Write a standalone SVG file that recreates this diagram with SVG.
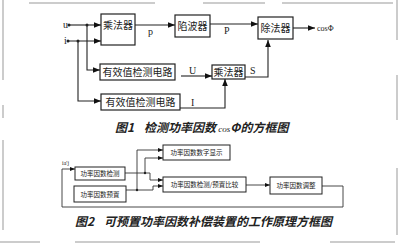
<svg xmlns="http://www.w3.org/2000/svg" width="400" height="245" viewBox="0 0 400 245">
<defs>
<marker id="ar" viewBox="0 0 10 10" refX="10" refY="5" markerWidth="7" markerHeight="7" markerUnits="userSpaceOnUse" orient="auto">
<path d="M0,1 L10,5 L0,9 z" fill="#111"/>
</marker>
<marker id="ar2" viewBox="0 0 10 10" refX="10" refY="5" markerWidth="5" markerHeight="5" markerUnits="userSpaceOnUse" orient="auto">
<path d="M0,1 L10,5 L0,9 z" fill="#111"/>
</marker>
</defs>
<style>
.b{fill:#fff;stroke:#222;stroke-width:1.2}
.b2{fill:#fff;stroke:#222;stroke-width:1}
.w{fill:none;stroke:#222;stroke-width:1.1}
.w2{fill:none;stroke:#333;stroke-width:0.9}
.t{font-family:"Noto Sans CJK SC","Liberation Serif",serif;font-size:10px;fill:#222;text-anchor:middle}
.t2{font-family:"Noto Sans CJK SC","Liberation Sans",sans-serif;font-size:6.5px;fill:#222;text-anchor:middle}
.l{font-family:"Liberation Serif",serif;font-size:10px;fill:#222}
.cap{font-family:"Noto Sans CJK SC","Liberation Sans",sans-serif;font-size:12px;font-style:italic;font-weight:bold;fill:#222}
.scan{fill:none;stroke:#999;stroke-width:1}
</style>
<g id="scan">
<line class="scan" x1="29" y1="3" x2="155" y2="3"/>
<line class="scan" x1="203" y1="3" x2="265" y2="3"/>
<line class="scan" x1="282" y1="3" x2="393" y2="3"/>
<line class="scan" x1="3" y1="0" x2="3" y2="80"/>
<line class="scan" x1="3" y1="105" x2="3" y2="118"/>
<line class="scan" x1="397" y1="0" x2="397" y2="40"/>
<line class="scan" x1="397" y1="75" x2="397" y2="120"/>
<line class="scan" x1="3" y1="140" x2="3" y2="230"/>
<line class="scan" x1="397" y1="168" x2="397" y2="235"/>
<line class="scan" x1="0" y1="242" x2="40" y2="242"/>
<line class="scan" x1="75" y1="242" x2="260" y2="242"/>
<line class="scan" x1="330" y1="242" x2="395" y2="242"/>
</g>
<g id="connectors">
<line class="w" x1="69" y1="25" x2="101" y2="25" marker-end="url(#ar)"/>
<line class="w" x1="68" y1="41" x2="101" y2="41" marker-end="url(#ar)"/>
<polyline class="w" points="87,25 87,70 100,70" marker-end="url(#ar)"/>
<polyline class="w" points="78,41 78,101 101,101" marker-end="url(#ar)"/>
<circle cx="69" cy="25" r="1.5" fill="#222"/>
<circle cx="87" cy="25" r="1.5" fill="#222"/>
<circle cx="68" cy="41" r="1.5" fill="#222"/>
<circle cx="78" cy="41" r="1.5" fill="#222"/>
<line class="w" x1="135" y1="25" x2="175" y2="25" marker-end="url(#ar)"/>
<line class="w" x1="210" y1="24" x2="258" y2="24" marker-end="url(#ar)"/>
<line class="w" x1="293" y1="28" x2="315" y2="28" marker-end="url(#ar)"/>
<line class="w" x1="181" y1="76" x2="212" y2="76" marker-end="url(#ar)"/>
<polyline class="w" points="245,77 268,77 268,40" marker-end="url(#ar)"/>
<polyline class="w" points="180,108 225,108 225,79" marker-end="url(#ar)"/>
<polyline class="w2" points="125,173 150,173 150,180 163,180" marker-end="url(#ar2)"/>
<polyline class="w2" points="145,173 145,158 163,158" marker-end="url(#ar2)"/>
<polyline class="w2" points="126,190 153,190 153,186 163,186" marker-end="url(#ar2)"/>
<polyline class="w2" points="137,190 137,150 163,150" marker-end="url(#ar2)"/>
<circle cx="145" cy="173" r="1.2" fill="#222"/>
<circle cx="137" cy="190" r="1.2" fill="#222"/>
<line class="w2" x1="246" y1="185" x2="270" y2="185" marker-end="url(#ar2)"/>
<polyline class="w2" points="322,186 343,186 343,207 62,207 62,169 75,169" marker-end="url(#ar2)"/>
</g>
<g id="labels">
<text class="l" x="63" y="28">u</text>
<text class="l" x="64" y="44">i</text>
<text class="l" x="148" y="35">p</text>
<text class="l" x="224" y="34">P</text>
<text class="l" x="189" y="74">U</text>
<text class="l" x="250" y="74">S</text>
<text class="l" x="191" y="106">I</text>
<text class="l" x="317" y="31" style="font-size:8px">cosΦ</text>
<text class="l" x="62" y="165" style="font-size:6px">ia'j</text>
</g>
<g id="mul1"><rect class="b" x="101" y="14" width="34" height="31"/><text class="t" x="118" y="29">乘法器</text></g>
<g id="notch"><rect class="b" x="175" y="15" width="35" height="22"/><text class="t" x="192.5" y="29.5">陷波器</text></g>
<g id="div"><rect class="b" x="258" y="17" width="35" height="22"/><text class="t" x="275.5" y="31.5">除法器</text></g>
<g id="rms1"><rect class="b" x="100" y="64" width="75" height="16"/><text class="t" x="137.5" y="75.5">有效值检测电路</text></g>
<g id="rms2"><rect class="b" x="101" y="94" width="79" height="16"/><text class="t" x="140.5" y="105.5">有效值检测电路</text></g>
<g id="mul2"><rect class="b" x="212" y="65" width="33" height="14"/><text class="t" x="228.5" y="75.5">乘法器</text></g>
<text class="cap" x="115" y="132">图1<tspan dx="10">检测功率因数</tspan><tspan style="font-size:9px;font-family:'Liberation Serif',serif;font-weight:normal"> cos</tspan>Φ的方框图</text>
<g id="detect"><rect class="b2" x="75" y="167" width="50" height="13"/><text class="t2" x="100" y="176">功率因数检测</text></g>
<g id="preset"><rect class="b2" x="74" y="186" width="52" height="16"/><text class="t2" x="100" y="196.5">功率因数预置</text></g>
<g id="display"><rect class="b2" x="163" y="145" width="67" height="15"/><text class="t2" x="196.5" y="155">功率因数数字显示</text></g>
<g id="compare"><rect class="b2" x="163" y="177" width="83" height="15"/><text class="t2" x="204.5" y="187">功率因数检测/预置比较</text></g>
<g id="adjust"><rect class="b2" x="270" y="177" width="52" height="17"/><text class="t2" x="296" y="188">功率因数调整</text></g>
<text class="cap" x="75" y="226">图2<tspan dx="10">可预置功率因数补偿装置的工作原理方框图</tspan></text>
</svg>
